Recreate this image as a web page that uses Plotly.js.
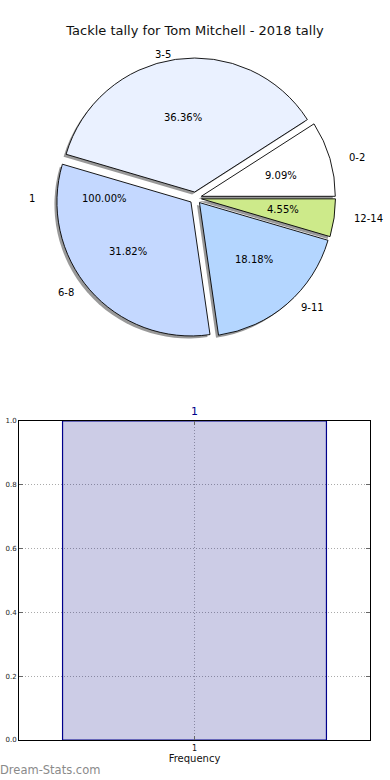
<!DOCTYPE html>
<html>
<head>
<meta charset="utf-8">
<script src="https://cdn.plot.ly/plotly-3.0.1.min.js"></script>
<style>html,body{margin:0;padding:0;background:#fff;}#chart{width:390px;height:780px;}</style>
</head>
<body>
<div id="chart"></div>
<script>
// ---- data ----
const chartTitle = 'Tackle tally for Tom Mitchell - 2018 tally';
const pieLabels = ['0-2', '3-5', '6-8', '9-11', '12-14'];
const pieValues = [2, 8, 7, 4, 1];
const pieColors = ['#ffffff', '#eaf1ff', '#c4d8ff', '#b4d6ff', '#cdea8a'];
const hiddenPieLabels = ['1'];
const hiddenPieValues = [1];
const barCategories = ['1'];
const barValues = [1];
const yTicks = [0, 0.2, 0.4, 0.6, 0.8, 1.0];
const yTickText = ['0.0', '0.2', '0.4', '0.6', '0.8', '1.0'];
const watermark = 'Dream-Stats.com';

// ---- geometry (px) ----
const W = 390, H = 780;
const cx = 195.5, cy = 198;    // pie centre
const R = 134, pull = 0.045;   // plotly circle radius and explode
const Rx = 138, Ry = 126, ex = 6; // reference label radii
const px2x = p => p / W;
const py2y = p => 1 - p / H;
const half = R * (1 + pull);
const pieDomain = {x: [px2x(cx - half), px2x(cx + half)], y: [py2y(cy + half), py2y(cy - half)]};
const shadowDomain = {x: [pieDomain.x[0] - 2.5 / W, pieDomain.x[1] - 2.5 / W], y: [pieDomain.y[0] - 2.5 / H, pieDomain.y[1] - 2.5 / H]};

const font = 'DejaVu Sans, Verdana, sans-serif';
const total = pieValues.reduce((a, b) => a + b, 0);
// counterclockwise pies in plotly end the first slice at `rotation`; start it at 3 o'clock
const rot = 90 - 360 * pieValues[0] / total;

const shadow = {
  type: 'pie', values: pieValues, labels: pieLabels, sort: false,
  direction: 'counterclockwise', rotation: rot, pull: pull,
  domain: shadowDomain, textinfo: 'none', hoverinfo: 'skip', showlegend: false,
  marker: {colors: pieValues.map(() => 'rgba(70,70,70,0.55)'), line: {width: 0}}
};
const pie = {
  type: 'pie', values: pieValues, labels: pieLabels, sort: false,
  direction: 'counterclockwise', rotation: rot, pull: pull,
  domain: pieDomain, textinfo: 'none', hoverinfo: 'label+percent', showlegend: false,
  marker: {colors: pieColors, line: {color: '#000', width: 0.9}}
};
const bar = {
  type: 'bar', x: barCategories, y: barValues, width: 0.8,
  xaxis: 'x', yaxis: 'y', showlegend: false,
  marker: {color: 'rgba(0,0,128,0.2)', line: {color: '#00008b', width: 1.2}},
  text: barValues.map(v => String(v)), textposition: 'outside', cliponaxis: false,
  textfont: {color: '#00008b', size: 11, family: font}
};

// ---- annotations derived from the data ----
const annotations = [];
let cum = 0;
pieValues.forEach((v, i) => {
  const th = 2 * Math.PI * (cum + v / 2) / total;
  cum += v;
  const c = Math.cos(th), s = Math.sin(th);
  annotations.push({
    xref: 'paper', yref: 'paper', showarrow: false,
    x: px2x(cx + c * (1.1 * Rx + ex)), y: py2y(cy - s * (1.1 * Ry + ex)),
    xanchor: c < 0 ? 'right' : 'left', yanchor: 'middle',
    text: pieLabels[i], font: {family: font, size: 10, color: '#000'}
  });
  annotations.push({
    xref: 'paper', yref: 'paper', showarrow: false,
    x: px2x(cx + c * (0.6 * Rx + ex)), y: py2y(cy - s * (0.6 * Ry + ex)),
    xanchor: 'center', yanchor: 'middle',
    text: (100 * v / total).toFixed(2) + '%', font: {family: font, size: 10, color: '#000'}
  });
});
// leftover single-slice pie labels
const hTotal = hiddenPieValues.reduce((a, b) => a + b, 0);
annotations.push({
  xref: 'paper', yref: 'paper', showarrow: false, x: px2x(37), y: py2y(198),
  xanchor: 'right', yanchor: 'middle', text: hiddenPieLabels[0],
  font: {family: font, size: 10, color: '#000'}
});
annotations.push({
  xref: 'paper', yref: 'paper', showarrow: false, x: px2x(104), y: py2y(198),
  xanchor: 'center', yanchor: 'middle', text: (100 * hiddenPieValues[0] / hTotal).toFixed(2) + '%',
  font: {family: font, size: 10, color: '#000'}
});
annotations.push({
  xref: 'paper', yref: 'paper', showarrow: false, x: px2x(-2), y: py2y(770),
  xanchor: 'left', yanchor: 'middle', text: watermark,
  font: {family: font, size: 11.5, color: '#8a8a8a'}
});

const layout = {
  width: W, height: H,
  margin: {l: 0, r: 0, t: 0, b: 0},
  paper_bgcolor: '#fff', plot_bgcolor: '#fff',
  font: {family: font, color: '#111'},
  title: {text: chartTitle, x: 0.5, xanchor: 'center', y: py2y(30), yref: 'paper', yanchor: 'middle',
          font: {family: font, size: 13, color: '#111'}},
  xaxis: {
    domain: [px2x(19), px2x(370)], anchor: 'y', type: 'category',
    range: [-0.532, 0.532], showline: true, linecolor: '#000', linewidth: 1, mirror: 'ticks',
    ticks: 'inside', ticklen: 4, tickcolor: '#666',
    showgrid: true, gridcolor: '#aaa', griddash: '1px,2px', gridwidth: 1,
    tickfont: {family: font, size: 8, color: '#111'},
    title: {text: 'Frequency', font: {family: font, size: 10, color: '#111'}, standoff: 2},
    zeroline: false, fixedrange: true
  },
  yaxis: {
    domain: [py2y(740), py2y(421)], anchor: 'x',
    range: [0, 1], showline: true, linecolor: '#000', linewidth: 1, mirror: 'ticks',
    ticks: 'inside', ticklen: 4, tickcolor: '#666',
    tickvals: yTicks, ticktext: yTickText,
    showgrid: true, gridcolor: '#aaa', griddash: '1px,2px', gridwidth: 1,
    tickfont: {family: font, size: 7, color: '#222'},
    zeroline: false, fixedrange: true
  },
  annotations: annotations
};

Plotly.newPlot('chart', [shadow, pie, bar], layout, {displayModeBar: false, staticPlot: true});
</script>
</body>
</html>
